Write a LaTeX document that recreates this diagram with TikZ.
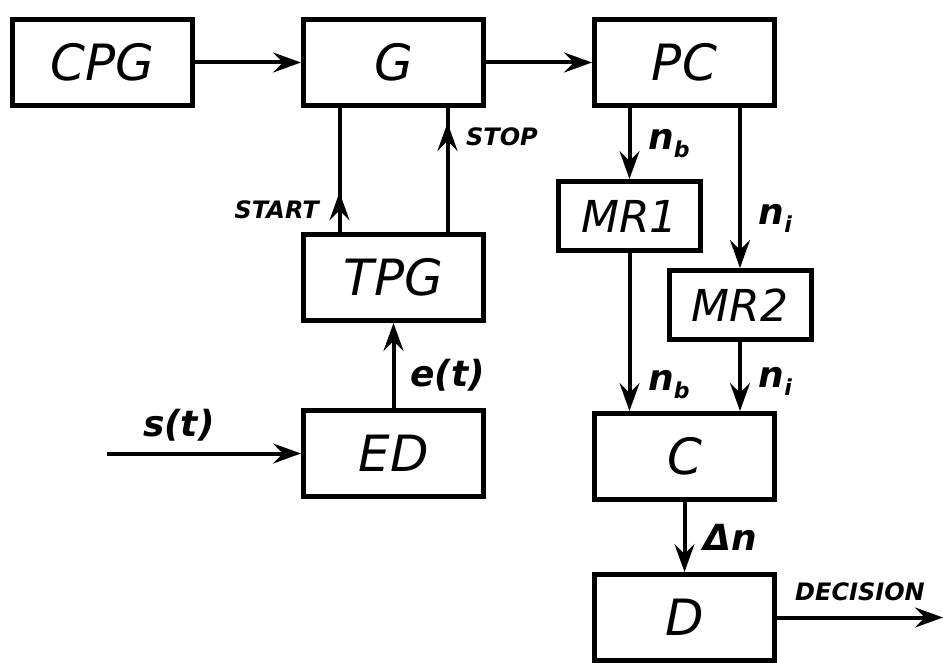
\documentclass[tikz,border=0pt]{standalone}
\usepackage{fontspec}
\setmainfont{DejaVu Sans}[
  BoldFont={DejaVu Sans Bold},
  ItalicFont={DejaVu Sans Oblique},
  BoldItalicFont={DejaVu Sans Bold Oblique}]
\usetikzlibrary{arrows.meta,positioning,decorations.markings}
\newcommand{\lowidx}[1]{\raisebox{-0.4ex}{\fontsize{11}{12}\selectfont #1}}

\begin{document}
\begin{tikzpicture}[
  node distance=53pt,
  blk/.style={draw, line width=2.5pt, minimum width=90pt, minimum height=43pt,
    inner sep=0pt, font=\fontsize{25}{30}\selectfont\itshape},
  smallblk/.style={blk, minimum width=71pt, minimum height=34.5pt,
    font=\fontsize{22}{26}\selectfont\itshape},
  arr/.style={-{Stealth[length=14pt,width=10pt,inset=5pt]}, line width=2pt},
  midarr/.style={line width=2pt, postaction={decorate, decoration={markings,
    mark=at position #1 with {\arrow{Stealth[length=14pt,width=10pt,inset=5pt]}}}}},
  sig/.style={font=\fontsize{18}{21}\selectfont\bfseries\itshape},
  tag/.style={font=\fontsize{12}{14}\selectfont\bfseries\itshape}
]
  \useasboundingbox (0,0) rectangle (471.5pt,-331.5pt);

  % blocks
  \node[blk] (CPG) at (51.25pt,-31.25pt) {CPG};
  \node[blk, right=of CPG] (G) {G};
  \node[blk, right=of G] (PC) {PC};
  \node[blk, below=62pt of G] (TPG) {TPG};
  \node[blk, below=42.5pt of TPG] (ED) {ED};
  \node[smallblk, below=35.5pt of PC, xshift=-27.5pt] (MR1) {MR1};
  \node[smallblk, below=80pt of PC, xshift=27.75pt] (MR2) {MR2};
  \node[blk, below=151.5pt of PC] (C) {C};
  \node[blk, below=35pt of C] (D) {D};
  \coordinate[left=97pt of ED] (sin);
  \coordinate (dout) at (471.5pt,0 |- D);

  % signal paths
  \draw[arr] (CPG) -- (G);
  \draw[arr] (G) -- (PC);
  \draw[midarr=0.32] ([xshift=-27pt]TPG.north) -- node[tag, left=6pt, pos=0.18] {START} ([xshift=-27pt]G.south);
  \draw[midarr=0.88] ([xshift=27pt]TPG.north) -- node[tag, right=5pt, pos=0.77] {STOP} ([xshift=27pt]G.south);
  \draw[arr] (ED) -- node[sig, right=4pt, pos=0.38] {e(t)} (TPG);
  \draw[arr] (sin) -- node[sig, above=2pt, pos=0.37] {s(t)} (ED);
  \draw[arr] (MR1 |- PC.south) -- node[sig, right=5pt, pos=0.5] {n\lowidx{b}} (MR1);
  \draw[arr] (MR2 |- PC.south) -- node[sig, right=5pt, pos=0.69] {n\lowidx{i}} (MR2);
  \draw[arr] (MR1) -- node[sig, right=5pt, pos=0.83] {n\lowidx{b}} (MR1 |- C.north);
  \draw[arr] (MR2) -- node[sig, right=5pt, pos=0.57] {n\lowidx{i}} (MR2 |- C.north);
  \draw[arr] (C) -- node[sig, right=5pt, pos=0.5] {Δn} (D);
  \draw[arr] (D) -- node[tag, above=4pt, pos=0.5] {DECISION} (dout);
\end{tikzpicture}
\end{document}
